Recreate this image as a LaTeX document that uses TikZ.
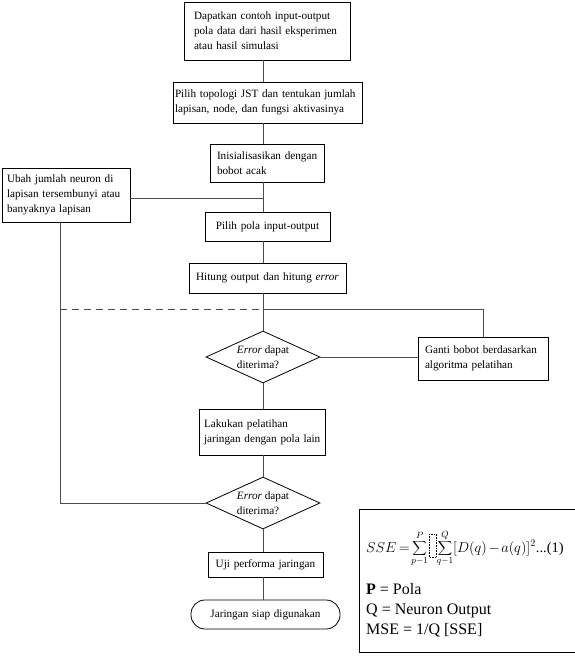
\documentclass[tikz,border=0pt]{standalone}
\usepackage{fontspec}
\setmainfont{Liberation Serif}
\usetikzlibrary{shapes.geometric}
\begin{document}
\begin{tikzpicture}[x=1pt,y=-1pt,
  box/.style={draw, line width=0.8pt, font=\fontsize{11.2}{15}\selectfont, align=left, inner ysep=2pt},
  cbox/.style={box, align=center},
  dec/.style={draw, line width=0.8pt, shape=diamond, minimum width=114pt, minimum height=52pt, inner sep=0pt},
  dtext/.style={font=\fontsize{11.2}{15}\selectfont, align=left},
  conn/.style={line width=0.8pt, draw=black!70},
  ftext/.style={anchor=base west, font=\fontsize{16}{20}\selectfont, inner sep=0pt}]
\useasboundingbox (0,0) rectangle (575,657);

\node[box, text width=146pt, inner xsep=10pt, minimum height=58pt] (b1) at (267,31)
  {\mbox{Dapatkan contoh input-output}\\\mbox{pola data dari hasil eksperimen}\\\mbox{atau hasil simulasi}};
\node[box, text width=185pt, inner xsep=2pt, minimum height=41pt] (b2) at (267.5,102.5)
  {\mbox{Pilih topologi JST dan tentukan jumlah}\\\mbox{lapisan, node, dan fungsi aktivasinya}};
\node[box, text width=100pt, inner xsep=7pt, minimum height=38pt] (b3) at (267,163)
  {\mbox{Inisialisasikan dengan}\\\mbox{bobot acak}};
\node[box, text width=118pt, inner xsep=5pt, minimum height=54pt] (ubah) at (66,195)
  {\mbox{Ubah jumlah neuron di}\\\mbox{lapisan tersembunyi atau}\\\mbox{banyaknya lapisan}};
\node[cbox, text width=117pt, inner xsep=4pt, minimum height=29pt] (pilih) at (267.5,226.5)
  {Pilih pola input-output};
\node[cbox, text width=149pt, inner xsep=4pt, minimum height=30pt] (hitung) at (267.5,278)
  {Hitung output dan hitung \textit{error}};
\node[dec, label={[dtext]center:{\textit{Error} dapat\\diterima?}}] (d1) at (263,357) {};
\node[box, text width=116pt, inner xsep=7pt, minimum height=43pt] (ganti) at (483,358.5)
  {\mbox{Ganti bobot berdasarkan}\\\mbox{algoritma pelatihan}};
\node[box, text width=116pt, inner xsep=5pt, minimum height=46pt] (lakukan) at (262,432)
  {\mbox{Lakukan pelatihan}\\\mbox{jaringan dengan pola lain}};
\node[dec, label={[dtext]center:{\textit{Error} dapat\\diterima?}}] (d2) at (263,503) {};
\node[cbox, text width=107pt, inner xsep=4pt, minimum height=25pt] (uji) at (265.5,564.5)
  {Uji performa jaringan};
\node[cbox, text width=133pt, inner xsep=8pt, minimum height=29pt, rounded corners=14pt] (term) at (265.5,614.5)
  {Jaringan siap digunakan};

% formula box
\node[draw, line width=0.8pt, anchor=north west, minimum width=225pt, minimum height=143pt, inner sep=0pt] (fbox) at (359,509) {};
\node[ftext, font=\fontsize{14.5}{18}\selectfont] (f1) at (366,552)
  {$SSE\mskip3mu{=}\mskip2mu$%
   {\fontsize{13.5}{15}\selectfont$\displaystyle\sum_{p-1}^{P}$}\hspace{9pt}%
   {\fontsize{13.5}{15}\selectfont$\displaystyle\sum_{q-1}^{Q}$}%
   $[D(q)\mskip2mu{-}\mskip2mu a(q)]^{2}$...(1)};
\draw[densely dotted, line width=0.6pt] (429,534) rectangle (436,557);
\node[ftext] (f2) at (366,594) {\textbf{P} = Pola};
\node[ftext] (f3) at (366,614) {Q = Neuron Output};
\node[ftext] (f4) at (366,634) {MSE = 1/Q [SSE]};

% connectors
\coordinate (ax) at (263,0);
\coordinate (lx) at (60,0);
\coordinate (dj) at (263,309);
\coordinate (lj) at (60,309);
\draw[conn] (b1.south -| ax) -- (b2.north -| ax);
\draw[conn] (b2.south -| ax) -- (b3.north -| ax);
\draw[conn] (b3.south -| ax) -- (pilih.north -| ax);
\draw[conn] ([yshift=-3pt]ubah.east) -- ([yshift=-3pt]ubah.east -| ax);
\draw[conn] (pilih.south -| ax) -- (hitung.north -| ax);
\draw[conn] (hitung.south -| ax) -- (d1.north);
\draw[conn, dash pattern=on 7pt off 5pt] (lj) -- (dj);
\draw[conn] (dj) -| (ganti.north);
\draw[conn] (d1.east) -- (d1.east -| ganti.west);
\draw[conn] (d1.south) -- (lakukan.north -| ax);
\draw[conn] (lakukan.south -| ax) -- (d2.north);
\draw[conn] (d2.west) -- (d2.west -| lx) -- (ubah.south -| lx);
\draw[conn] (d2.south) -- (uji.north -| ax);
\draw[conn] (uji.south -| ax) -- (term.north -| ax);
\end{tikzpicture}
\end{document}
